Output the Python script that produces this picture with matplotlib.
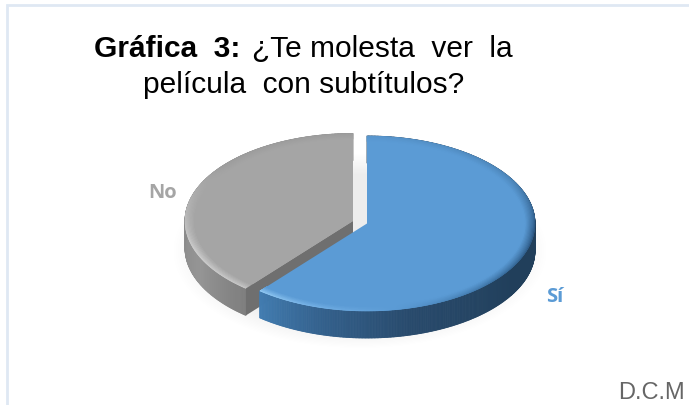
import numpy as np
import matplotlib
matplotlib.use("Agg")
import matplotlib.pyplot as plt
from matplotlib.collections import PolyCollection
from matplotlib.colors import to_rgb

categories = ["Sí", "No"]
values = [61, 39]
title_bold = "Gráfica  3:"
title_line1 = "¿Te molesta  ver  la"
title_line2 = "película  con subtítulos?"
credit = "D.C.M"

W, H = 689, 406
fig = plt.figure(figsize=(W / 100, H / 100), dpi=100)
ax = fig.add_axes([0, 0, 1, 1])
ax.set_xlim(0, W)
ax.set_ylim(H, 0)
ax.axis("off")

A, B, DEPTH = 168, 87.5, 27
RIM = 0.065


def pt(cx, cy, theta, r=1.0):
    return cx + A * r * np.sin(theta), cy - B * r * np.cos(theta)


def ramp(stops, deg):
    xs = [s[0] for s in stops]
    cols = np.array([to_rgb(s[1]) for s in stops])
    return tuple(np.interp(deg, xs, cols[:, i]) for i in range(3))


def mix(c1, c2, t):
    return tuple(a * (1 - t) + b * t for a, b in zip(c1, c2))


def draw_slice(cx, cy, start, stop, face, side_stops, rim_stops, cut=None):
    th = np.radians(np.arange(start, stop + 0.5, 0.5))
    th[-1] = min(th[-1], np.radians(stop))
    # vertical wall, shaded along the arc
    polys, cols = [], []
    for t0, t1 in zip(th[:-1], th[1:]):
        x0, y0 = pt(cx, cy, t0)
        x1, y1 = pt(cx, cy, t1)
        polys.append([(x0, y0), (x1, y1), (x1, y1 + DEPTH), (x0, y0 + DEPTH)])
        cols.append(ramp(side_stops, np.degrees(t0)))
    ax.add_collection(PolyCollection(polys, facecolors=cols, edgecolors="face", linewidths=0.6))
    # flat top
    xs, ys = pt(cx, cy, th)
    ax.fill(np.r_[cx, xs], np.r_[cy, ys], color=face, lw=0)
    # bevelled rim fading into the flat top
    polys, cols = [], []
    rings = np.linspace(1, 1 - RIM, 10)
    for i, (r0, r1) in enumerate(zip(rings[:-1], rings[1:])):
        fade = (i / (len(rings) - 2)) ** 0.8
        for t0, t1 in zip(th[:-1], th[1:]):
            a = pt(cx, cy, t0, r0)
            b = pt(cx, cy, t1, r0)
            c = pt(cx, cy, t1, r1)
            d = pt(cx, cy, t0, r1)
            polys.append([a, b, c, d])
            cols.append(mix(ramp(rim_stops, np.degrees(t0)), to_rgb(face), fade))
    ax.add_collection(PolyCollection(polys, facecolors=cols, edgecolors="face", linewidths=0.4))
    if cut is not None:
        x, y = pt(cx, cy, np.radians(start))
        ax.fill([cx, x, x, cx], [cy, y, y + DEPTH, cy + DEPTH], color=cut, lw=0)


# panel border, open on the right and at the bottom
ax.plot([7, 7, W], [H, 6, 6], color="#dfe8f3", lw=2, solid_joinstyle="miter")

# soft contact shadow beneath the pie
for k in np.linspace(1.11, 0.88, 18):
    ax.add_patch(matplotlib.patches.Ellipse((360, 252), 2 * A * k, 2 * B * k,
                                             color="black", alpha=0.004, lw=0))

total = sum(values)
si_end = 360 * values[0] / total

# exploded grey slice, then the blue one in front of it
draw_slice(353, 222, si_end, 360, "#a5a5a5",
           [(215, "#7a7a7a"), (225, "#838383"), (245, "#959595"), (290, "#858585"), (360, "#808080")],
           [(215, "#c8c8c8"), (250, "#d0d0d0"), (280, "#b5b5b5"), (310, "#9c9c9c"), (360, "#9c9c9c")],
           cut="#6f6f6f")
draw_slice(367, 224.5, 0, si_end, "#5b9bd5",
           [(0, "#203f5a"), (120, "#213f5b"), (165, "#284a6c"), (195, "#33608c"), (222, "#437fb4")],
           [(0, "#5895cc"), (60, "#4a83b6"), (95, "#2a5580"), (130, "#3a6fa0"), (170, "#5b9bd5"),
            (200, "#78b4e8"), (222, "#9ad0f7")])

# slice labels
label_font = dict(family="Open Sans", fontweight="bold", fontsize=14.5, ha="center", va="baseline")
ax.text(162.5, 198, categories[1], color="#a5a5a5", **label_font)
ax.text(554.5, 302, categories[0], color="#5b9bd5", **label_font)

# heading, two lines in Arial-like type
head = dict(family="Liberation Sans", fontsize=21.5, color="black", va="baseline")
ax.text(94, 57, title_bold, fontweight="bold", ha="left", **head)
ax.text(513, 57, title_line1, ha="right", **head)
ax.text(303.5, 93, title_line2, ha="center", **head)

ax.text(685, 399, credit, family="Liberation Sans", fontsize=17, color="#666666",
        ha="right", va="baseline")

fig.savefig("out.png", dpi=100, facecolor="white")
